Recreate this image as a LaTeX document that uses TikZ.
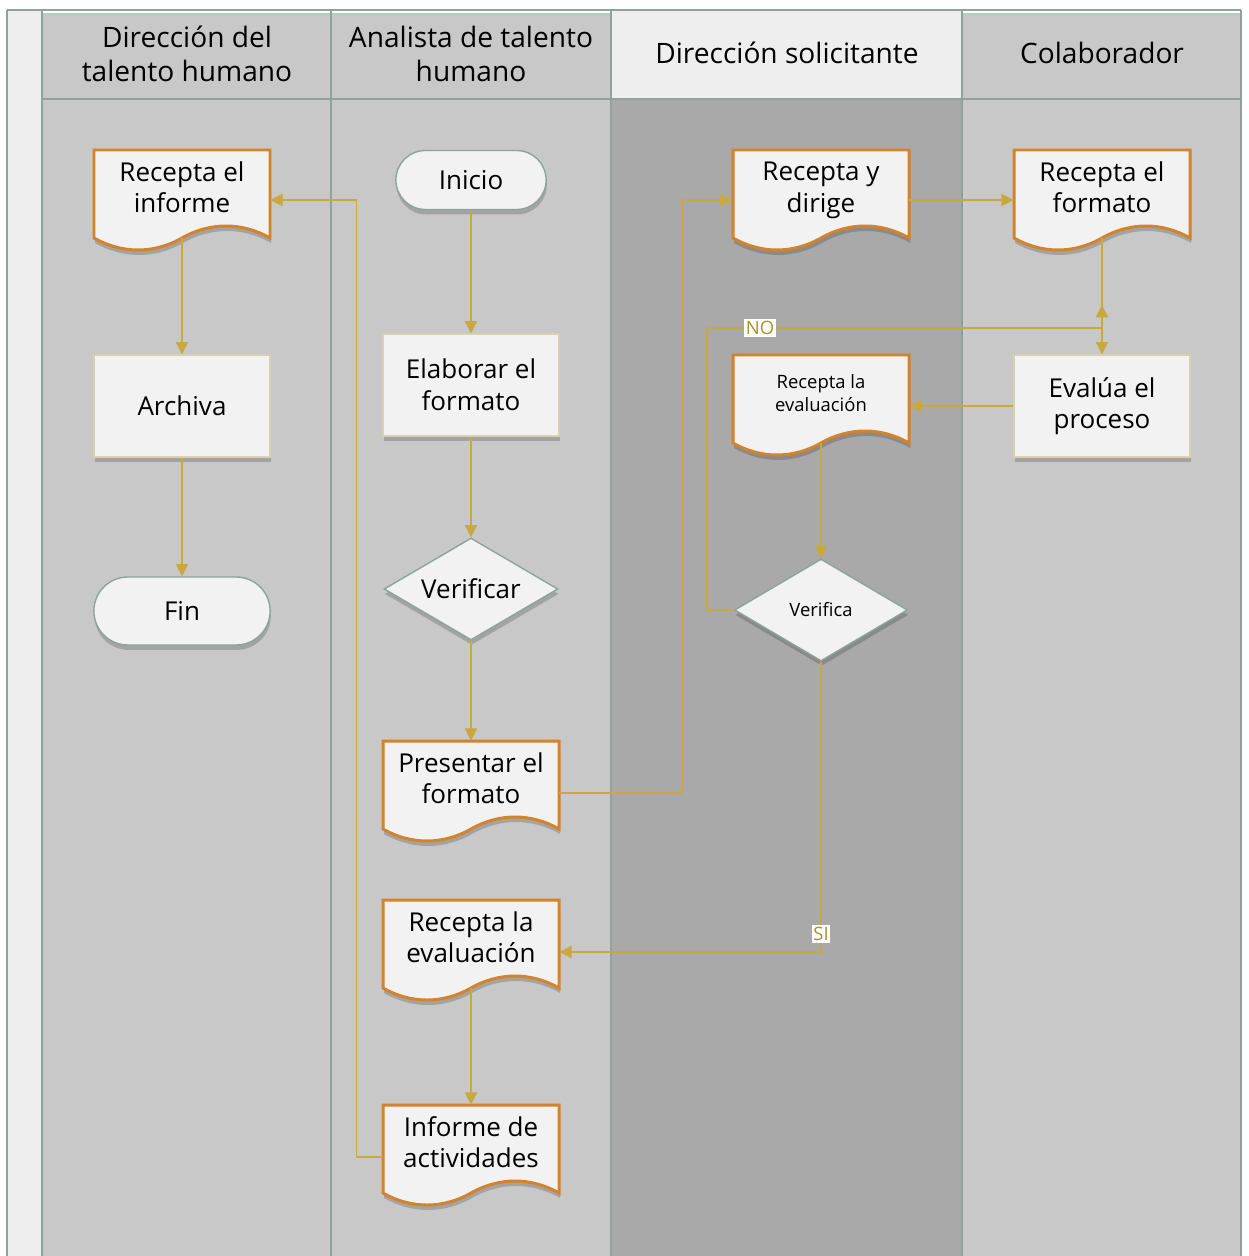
\documentclass[tikz,border=0pt]{standalone}
\usepackage{fontspec}
\setmainfont{Open Sans}
\usetikzlibrary{arrows.meta,shapes.geometric,shapes.misc,shadows}
\definecolor{lanebg}{HTML}{C8C8C8}
\definecolor{lanedark}{HTML}{A9A9A9}
\definecolor{lanelight}{HTML}{EEEEEE}
\definecolor{laneline}{HTML}{8FA39A}
\definecolor{docline}{HTML}{D4832A}
\definecolor{boxfill}{HTML}{F2F2F2}
\definecolor{boxline}{HTML}{D8D0B2}
\definecolor{flowc}{HTML}{C9A93F}
\definecolor{lblc}{HTML}{A8902A}
\tikzset{
  shad/.style={drop shadow={shadow xshift=0.4pt, shadow yshift=-2.8pt,
    opacity=0.18, fill=black}},
  docbox/.style={
    rectangle, minimum width=3.52cm, minimum height=1.76cm,
    inner sep=0pt, align=center, text depth=8pt,
    font=\fontsize{14.8}{18}\selectfont
  },
  smalldoc/.style={docbox, text depth=6.8pt, font=\fontsize{10.5}{13.5}\selectfont},
  procbox/.style={
    rectangle, draw=boxline, line width=0.8pt, fill=boxfill, shad,
    minimum width=3.52cm, minimum height=2.04cm,
    align=center, font=\fontsize{14.8}{18}\selectfont
  },
  termbox/.style={
    rounded rectangle, draw=laneline, line width=0.8pt, fill=boxfill, shad,
    minimum height=1.18cm, font=\fontsize{14.8}{18}\selectfont
  },
  decbox/.style={
    diamond, draw=laneline, line width=0.8pt, fill=boxfill, shad,
    inner sep=0pt, aspect=1.7, minimum width=3.46cm, minimum height=2.04cm,
    font=\fontsize{14.8}{18}\selectfont
  },
  lanehead/.style={align=center, text=black, font=\fontsize{16}{19.5}\selectfont},
  flow/.style={-{Triangle[length=7pt,width=7pt]}, draw=flowc, line width=0.6pt},
  lbl/.style={fill=white, text=lblc, inner sep=1pt, font=\fontsize{10.5}{12}\selectfont},
  docshape/.pic={
    \fill[black, opacity=0.18, shift={(1,5)}]
      (-88,-44) -- (88,-44) -- (88,44)
      .. controls (60,28) and (28,28) .. (0,44)
      .. controls (-28,60) and (-60,60) .. (-88,44) -- cycle;
    \draw[docline, line width=1.7pt, fill=boxfill]
      (-88,-44) -- (88,-44) -- (88,44)
      .. controls (60,28) and (28,28) .. (0,44)
      .. controls (-28,60) and (-60,60) .. (-88,44) -- cycle;
  }
}

\begin{document}
\begin{tikzpicture}[x=0.02cm, y=-0.02cm]
\useasboundingbox (0,0) rectangle (1248,1256);

% ── Swimlanes ─────────────────────────────────────────────────────
\fill[lanelight] (7,10) rectangle (42,1256);
\fill[lanebg] (42,14) rectangle (611,1256);
\fill[lanelight] (611,10) rectangle (962,99);
\fill[lanedark] (611,99) rectangle (962,1256);
\fill[lanebg] (962,14) rectangle (1241,1256);
\draw[laneline, line width=0.9pt] (7,10) -- (1241,10);
\draw[laneline!60, line width=0.6pt] (42,14) -- (611,14) (962,14) -- (1241,14);
\draw[laneline, line width=1.1pt] (42,99) -- (1241,99);
\draw[laneline, line width=0.9pt] (7,10) -- (7,1256);
\foreach \x in {42,331,611,962,1241}
  \draw[laneline, line width=1.1pt] (\x,10) -- (\x,1256);

% ── Lane titles ───────────────────────────────────────────────────
\node[lanehead] (h1) at (187,54) {Dirección del\\talento humano};
\node[lanehead] (h2) at (471,54) {Analista de talento\\humano};
\node[lanehead] (h3) at (787,53) {Dirección solicitante};
\node[lanehead] (h4) at (1102,53) {Colaborador};

% ── Dirección del talento humano ──────────────────────────────────
\pic at (182,194) {docshape};
\node[docbox] (infoR) at (182,194) {Recepta el\\informe};
\node[procbox] (archiva) at (182,406) {Archiva};
\node[termbox, minimum width=3.76cm, minimum height=1.36cm] (fin) at (182,611) {Fin};

% ── Analista de talento humano ────────────────────────────────────
\node[termbox, minimum width=3.24cm] (inicio) at (471,180) {Inicio};
\node[procbox] (elab) at (471,385) {Elaborar el\\formato};
\node[decbox, minimum width=3.48cm] (verif) at (471,589) {Verificar};
\pic at (471,785) {docshape};
\node[docbox] (presF) at (471,785) {Presentar el\\formato};
\pic at (471,944) {docshape};
\node[docbox] (recE2) at (471,944) {Recepta la\\evaluación};
\pic at (471,1149) {docshape};
\node[docbox] (infA) at (471,1149) {Informe de\\actividades};

% ── Dirección solicitante ─────────────────────────────────────────
\pic at (821,194) {docshape};
\node[docbox] (recD) at (821,194) {Recepta y\\dirige};
\pic at (821,399) {docshape};
\node[smalldoc] (recE3) at (821,399) {Recepta la\\evaluación};
\node[decbox, font=\fontsize{10.5}{13.5}\selectfont] (verifica) at (821,610) {Verifica};

% ── Colaborador ───────────────────────────────────────────────────
\pic at (1102,194) {docshape};
\node[docbox] (recF) at (1102,194) {Recepta el\\formato};
\node[procbox] (evalua) at (1102,406) {Evalúa el\\proceso};

% ── Flow ──────────────────────────────────────────────────────────
% side connectors meet the documents a little below their centre
\coordinate (noleft) at (707,610);
\coordinate (noup) at (1102,328);
\draw[flow] (inicio.south) -- (elab.north);
\draw[flow] (elab.south) -- (verif.north);
\draw[flow] (verif.south) -- (presF.north);
\draw[flow] ([shift={(0,8)}]presF.east) -- ++(123,0) |- ([shift={(0,6)}]recD.west);
\draw[flow] ([shift={(0,6)}]recD.east) -- ([shift={(0,6)}]recF.west);
\draw[flow] (recF.south) -- (evalua.north);
\draw[flow] (evalua.west) -- (evalua.west -| recE3.east);
\draw[flow] (recE3.south) -- (verifica.north);
\draw[flow] (verifica.west) -- (noleft) |- (noup) -- ++(0,-23);
\draw[flow] (verifica.south) |- ([shift={(0,8)}]recE2.east);
\draw[flow] (recE2.south) -- (infA.north);
\draw[flow] ([shift={(0,8)}]infA.west) -- ++(-26,0) |- ([shift={(0,6)}]infoR.east);
\draw[flow] (infoR.south) -- (archiva.north);
\draw[flow] (archiva.south) -- (fin.north);

% ── Branch labels ─────────────────────────────────────────────────
\node[lbl] (no) at (760,328) {NO};
\node[lbl] (si) at (821,934) {SI};

\end{tikzpicture}
\end{document}
